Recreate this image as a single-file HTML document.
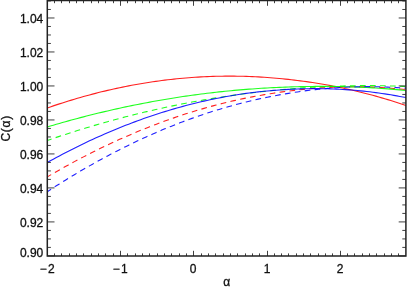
<!DOCTYPE html>
<html><head><meta charset="utf-8"><title>plot</title>
<style>html,body{margin:0;padding:0;background:#fff;}svg{display:block;}text{font-family:"Liberation Sans",sans-serif;font-size:12px;fill:#111;stroke:#111;stroke-width:0.3px;}</style></head>
<body>
<div style="will-change:transform;width:407px;height:287px;">
<svg width="407" height="287" viewBox="0 0 407 287">
<defs><clipPath id="c"><rect x="47.3" y="0.6" width="358.6" height="255.4"/></clipPath></defs>
<g clip-path="url(#c)" fill="none" stroke-linecap="butt" stroke-linejoin="round" stroke-opacity="0.88">
<polyline points="47.3,107.96 50.3,106.91 53.3,105.89 56.3,104.88 59.4,103.89 62.4,102.91 65.4,101.96 68.4,101.02 71.4,100.10 74.4,99.19 77.4,98.30 80.4,97.44 83.5,96.58 86.5,95.75 89.5,94.93 92.5,94.13 95.5,93.35 98.5,92.58 101.5,91.83 104.6,91.10 107.6,90.39 110.6,89.70 113.6,89.02 116.6,88.36 119.6,87.71 122.6,87.09 125.6,86.48 128.7,85.89 131.7,85.31 134.7,84.76 137.7,84.22 140.7,83.70 143.7,83.19 146.7,82.70 149.8,82.23 152.8,81.78 155.8,81.35 158.8,80.93 161.8,80.53 164.8,80.15 167.8,79.78 170.9,79.43 173.9,79.10 176.9,78.79 179.9,78.49 182.9,78.22 185.9,77.96 188.9,77.71 191.9,77.49 195.0,77.28 198.0,77.09 201.0,76.91 204.0,76.76 207.0,76.62 210.0,76.49 213.0,76.39 216.1,76.30 219.1,76.23 222.1,76.18 225.1,76.15 228.1,76.13 231.1,76.13 234.1,76.15 237.1,76.18 240.2,76.23 243.2,76.30 246.2,76.39 249.2,76.49 252.2,76.62 255.2,76.76 258.2,76.91 261.3,77.09 264.3,77.28 267.3,77.49 270.3,77.71 273.3,77.96 276.3,78.22 279.3,78.49 282.3,78.79 285.4,79.10 288.4,79.42 291.4,79.75 294.4,80.09 297.4,80.46 300.4,80.84 303.4,81.24 306.5,81.66 309.5,82.10 312.5,82.55 315.5,83.02 318.5,83.51 321.5,84.01 324.5,84.53 327.6,85.07 330.6,85.63 333.6,86.20 336.6,86.80 339.6,87.41 342.6,88.03 345.6,88.68 348.6,89.34 351.7,90.02 354.7,90.71 357.7,91.43 360.7,92.16 363.7,92.91 366.7,93.68 369.7,94.48 372.8,95.30 375.8,96.13 378.8,96.99 381.8,97.86 384.8,98.74 387.8,99.65 390.8,100.57 393.8,101.51 396.9,102.46 399.9,103.44 402.9,104.43 405.9,105.44" stroke="#ff0000" stroke-width="1.1"/>
<polyline points="47.3,176.89 50.3,175.13 53.3,173.38 56.3,171.65 59.4,169.94 62.4,168.24 65.4,166.56 68.4,164.90 71.4,163.26 74.4,161.64 77.4,160.03 80.4,158.44 83.5,156.87 86.5,155.31 89.5,153.78 92.5,152.26 95.5,150.75 98.5,149.27 101.5,147.80 104.6,146.35 107.6,144.92 110.6,143.51 113.6,142.11 116.6,140.73 119.6,139.37 122.6,138.03 125.6,136.70 128.7,135.39 131.7,134.10 134.7,132.82 137.7,131.57 140.7,130.33 143.7,129.11 146.7,127.90 149.8,126.72 152.8,125.55 155.8,124.40 158.8,123.27 161.8,122.15 164.8,121.05 167.8,119.97 170.9,118.91 173.9,117.86 176.9,116.83 179.9,115.82 182.9,114.83 185.9,113.85 188.9,112.90 191.9,111.96 195.0,111.03 198.0,110.13 201.0,109.24 204.0,108.37 207.0,107.52 210.0,106.68 213.0,105.87 216.1,105.07 219.1,104.28 222.1,103.52 225.1,102.77 228.1,102.04 231.1,101.33 234.1,100.63 237.1,99.96 240.2,99.30 243.2,98.66 246.2,98.03 249.2,97.42 252.2,96.84 255.2,96.26 258.2,95.71 261.3,95.17 264.3,94.65 267.3,94.15 270.3,93.67 273.3,93.20 276.3,92.75 279.3,92.32 282.3,91.91 285.4,91.51 288.4,91.11 291.4,90.73 294.4,90.37 297.4,90.03 300.4,89.70 303.4,89.39 306.5,89.10 309.5,88.82 312.5,88.57 315.5,88.33 318.5,88.10 321.5,87.90 324.5,87.71 327.6,87.54 330.6,87.39 333.6,87.26 336.6,87.14 339.6,87.04 342.6,86.96 345.6,86.90 348.6,86.85 351.7,86.82 354.7,86.81 357.7,86.82 360.7,86.84 363.7,86.88 366.7,86.95 369.7,87.05 372.8,87.16 375.8,87.29 378.8,87.44 381.8,87.60 384.8,87.79 387.8,87.99 390.8,88.21 393.8,88.44 396.9,88.70 399.9,88.97 402.9,89.26 405.9,89.56" stroke="#ff0000" stroke-width="1.1" stroke-dasharray="5.7 4.3" stroke-dashoffset="1.2"/>
<polyline points="47.3,126.94 50.3,126.04 53.3,125.16 56.3,124.28 59.4,123.42 62.4,122.56 65.4,121.71 68.4,120.88 71.4,120.05 74.4,119.24 77.4,118.43 80.4,117.64 83.5,116.85 86.5,116.08 89.5,115.31 92.5,114.56 95.5,113.81 98.5,113.08 101.5,112.35 104.6,111.64 107.6,110.93 110.6,110.24 113.6,109.55 116.6,108.88 119.6,108.21 122.6,107.56 125.6,106.91 128.7,106.28 131.7,105.66 134.7,105.04 137.7,104.44 140.7,103.84 143.7,103.26 146.7,102.68 149.8,102.12 152.8,101.57 155.8,101.02 158.8,100.49 161.8,99.96 164.8,99.45 167.8,98.95 170.9,98.45 173.9,97.97 176.9,97.50 179.9,97.03 182.9,96.58 185.9,96.14 188.9,95.70 191.9,95.28 195.0,94.87 198.0,94.46 201.0,94.07 204.0,93.69 207.0,93.31 210.0,92.95 213.0,92.60 216.1,92.26 219.1,91.92 222.1,91.60 225.1,91.29 228.1,90.98 231.1,90.69 234.1,90.41 237.1,90.14 240.2,89.88 243.2,89.62 246.2,89.38 249.2,89.15 252.2,88.93 255.2,88.71 258.2,88.51 261.3,88.32 264.3,88.14 267.3,87.97 270.3,87.80 273.3,87.65 276.3,87.51 279.3,87.38 282.3,87.26 285.4,87.14 288.4,87.03 291.4,86.92 294.4,86.82 297.4,86.73 300.4,86.65 303.4,86.58 306.5,86.53 309.5,86.48 312.5,86.44 315.5,86.41 318.5,86.39 321.5,86.39 324.5,86.39 327.6,86.40 330.6,86.42 333.6,86.46 336.6,86.50 339.6,86.55 342.6,86.61 345.6,86.69 348.6,86.77 351.7,86.86 354.7,86.96 357.7,87.08 360.7,87.20 363.7,87.33 366.7,87.49 369.7,87.66 372.8,87.84 375.8,88.03 378.8,88.23 381.8,88.44 384.8,88.66 387.8,88.89 390.8,89.13 393.8,89.38 396.9,89.64 399.9,89.91 402.9,90.19 405.9,90.48" stroke="#00ff00" stroke-width="1.1"/>
<polyline points="47.3,140.44 50.3,139.41 53.3,138.39 56.3,137.38 59.4,136.38 62.4,135.38 65.4,134.40 68.4,133.43 71.4,132.47 74.4,131.52 77.4,130.58 80.4,129.64 83.5,128.72 86.5,127.81 89.5,126.91 92.5,126.01 95.5,125.13 98.5,124.26 101.5,123.39 104.6,122.54 107.6,121.70 110.6,120.86 113.6,120.04 116.6,119.23 119.6,118.42 122.6,117.63 125.6,116.84 128.7,116.07 131.7,115.30 134.7,114.55 137.7,113.80 140.7,113.07 143.7,112.34 146.7,111.63 149.8,110.92 152.8,110.23 155.8,109.54 158.8,108.86 161.8,108.20 164.8,107.54 167.8,106.90 170.9,106.26 173.9,105.63 176.9,105.01 179.9,104.41 182.9,103.81 185.9,103.22 188.9,102.64 191.9,102.08 195.0,101.52 198.0,100.97 201.0,100.43 204.0,99.90 207.0,99.39 210.0,98.88 213.0,98.38 216.1,97.89 219.1,97.41 222.1,96.94 225.1,96.48 228.1,96.03 231.1,95.59 234.1,95.16 237.1,94.74 240.2,94.33 243.2,93.93 246.2,93.54 249.2,93.16 252.2,92.79 255.2,92.43 258.2,92.08 261.3,91.74 264.3,91.40 267.3,91.08 270.3,90.77 273.3,90.47 276.3,90.18 279.3,89.89 282.3,89.62 285.4,89.36 288.4,89.09 291.4,88.83 294.4,88.58 297.4,88.35 300.4,88.12 303.4,87.90 306.5,87.69 309.5,87.49 312.5,87.30 315.5,87.12 318.5,86.95 321.5,86.79 324.5,86.65 327.6,86.51 330.6,86.38 333.6,86.26 336.6,86.15 339.6,86.05 342.6,85.95 345.6,85.87 348.6,85.80 351.7,85.74 354.7,85.69 357.7,85.65 360.7,85.62 363.7,85.60 366.7,85.59 369.7,85.61 372.8,85.63 375.8,85.66 378.8,85.71 381.8,85.76 384.8,85.82 387.8,85.89 390.8,85.98 393.8,86.07 396.9,86.17 399.9,86.28 402.9,86.40 405.9,86.53" stroke="#00ff00" stroke-width="1.1" stroke-dasharray="5.7 4.3" stroke-dashoffset="1.2"/>
<polyline points="47.3,162.46 50.3,160.79 53.3,159.15 56.3,157.52 59.4,155.91 62.4,154.32 65.4,152.75 68.4,151.19 71.4,149.66 74.4,148.15 77.4,146.65 80.4,145.18 83.5,143.72 86.5,142.28 89.5,140.87 92.5,139.47 95.5,138.09 98.5,136.72 101.5,135.38 104.6,134.06 107.6,132.76 110.6,131.47 113.6,130.20 116.6,128.96 119.6,127.73 122.6,126.52 125.6,125.33 128.7,124.16 131.7,123.01 134.7,121.88 137.7,120.77 140.7,119.67 143.7,118.60 146.7,117.54 149.8,116.50 152.8,115.49 155.8,114.49 158.8,113.51 161.8,112.55 164.8,111.61 167.8,110.68 170.9,109.78 173.9,108.90 176.9,108.03 179.9,107.19 182.9,106.36 185.9,105.55 188.9,104.76 191.9,103.99 195.0,103.24 198.0,102.51 201.0,101.80 204.0,101.10 207.0,100.43 210.0,99.78 213.0,99.14 216.1,98.52 219.1,97.92 222.1,97.35 225.1,96.79 228.1,96.25 231.1,95.72 234.1,95.22 237.1,94.74 240.2,94.27 243.2,93.83 246.2,93.40 249.2,92.99 252.2,92.61 255.2,92.24 258.2,91.89 261.3,91.56 264.3,91.25 267.3,90.95 270.3,90.68 273.3,90.42 276.3,90.19 279.3,89.97 282.3,89.78 285.4,89.60 288.4,89.42 291.4,89.25 294.4,89.11 297.4,88.99 300.4,88.89 303.4,88.80 306.5,88.74 309.5,88.69 312.5,88.66 315.5,88.66 318.5,88.67 321.5,88.70 324.5,88.75 327.6,88.82 330.6,88.90 333.6,89.01 336.6,89.13 339.6,89.28 342.6,89.44 345.6,89.63 348.6,89.83 351.7,90.05 354.7,90.29 357.7,90.55 360.7,90.83 363.7,91.12 366.7,91.45 369.7,91.81 372.8,92.18 375.8,92.58 378.8,92.99 381.8,93.42 384.8,93.87 387.8,94.34 390.8,94.83 393.8,95.34 396.9,95.87 399.9,96.42 402.9,96.98 405.9,97.57" stroke="#0000ff" stroke-width="1.1"/>
<polyline points="47.3,191.67 50.3,189.71 53.3,187.76 56.3,185.83 59.4,183.93 62.4,182.04 65.4,180.16 68.4,178.31 71.4,176.48 74.4,174.66 77.4,172.86 80.4,171.08 83.5,169.32 86.5,167.58 89.5,165.86 92.5,164.15 95.5,162.47 98.5,160.80 101.5,159.15 104.6,157.52 107.6,155.91 110.6,154.32 113.6,152.75 116.6,151.19 119.6,149.66 122.6,148.14 125.6,146.64 128.7,145.16 131.7,143.70 134.7,142.25 137.7,140.83 140.7,139.42 143.7,138.04 146.7,136.67 149.8,135.32 152.8,133.99 155.8,132.67 158.8,131.38 161.8,130.10 164.8,128.85 167.8,127.61 170.9,126.39 173.9,125.19 176.9,124.00 179.9,122.84 182.9,121.70 185.9,120.57 188.9,119.46 191.9,118.37 195.0,117.30 198.0,116.25 201.0,115.22 204.0,114.20 207.0,113.21 210.0,112.23 213.0,111.27 216.1,110.33 219.1,109.41 222.1,108.51 225.1,107.62 228.1,106.76 231.1,105.91 234.1,105.08 237.1,104.27 240.2,103.48 243.2,102.71 246.2,101.95 249.2,101.22 252.2,100.50 255.2,99.80 258.2,99.13 261.3,98.47 264.3,97.82 267.3,97.20 270.3,96.60 273.3,96.01 276.3,95.44 279.3,94.89 282.3,94.36 285.4,93.85 288.4,93.34 291.4,92.85 294.4,92.38 297.4,91.92 300.4,91.49 303.4,91.07 306.5,90.67 309.5,90.29 312.5,89.93 315.5,89.59 318.5,89.27 321.5,88.96 324.5,88.68 327.6,88.41 330.6,88.16 333.6,87.93 336.6,87.72 339.6,87.53 342.6,87.35 345.6,87.20 348.6,87.06 351.7,86.94 354.7,86.84 357.7,86.76 360.7,86.70 363.7,86.65 366.7,86.64 369.7,86.65 372.8,86.68 375.8,86.72 378.8,86.79 381.8,86.88 384.8,86.98 387.8,87.10 390.8,87.24 393.8,87.40 396.9,87.58 399.9,87.78 402.9,87.99 405.9,88.23" stroke="#0000ff" stroke-width="1.1" stroke-dasharray="5.7 4.3" stroke-dashoffset="1.2"/>
</g>
<path d="M47.50,256.0v-5.2M47.50,0.6v5.2M54.50,256.0v-2.6M54.50,0.6v2.6M61.50,256.0v-2.6M61.50,0.6v2.6M69.50,256.0v-2.6M69.50,0.6v2.6M76.50,256.0v-2.6M76.50,0.6v2.6M83.50,256.0v-2.6M83.50,0.6v2.6M91.50,256.0v-2.6M91.50,0.6v2.6M98.50,256.0v-2.6M98.50,0.6v2.6M105.50,256.0v-2.6M105.50,0.6v2.6M113.50,256.0v-2.6M113.50,0.6v2.6M120.50,256.0v-5.2M120.50,0.6v5.2M127.50,256.0v-2.6M127.50,0.6v2.6M135.50,256.0v-2.6M135.50,0.6v2.6M142.50,256.0v-2.6M142.50,0.6v2.6M149.50,256.0v-2.6M149.50,0.6v2.6M157.50,256.0v-2.6M157.50,0.6v2.6M164.50,256.0v-2.6M164.50,0.6v2.6M171.50,256.0v-2.6M171.50,0.6v2.6M179.50,256.0v-2.6M179.50,0.6v2.6M186.50,256.0v-2.6M186.50,0.6v2.6M193.50,256.0v-5.2M193.50,0.6v5.2M201.50,256.0v-2.6M201.50,0.6v2.6M208.50,256.0v-2.6M208.50,0.6v2.6M215.50,256.0v-2.6M215.50,0.6v2.6M223.50,256.0v-2.6M223.50,0.6v2.6M230.50,256.0v-2.6M230.50,0.6v2.6M237.50,256.0v-2.6M237.50,0.6v2.6M245.50,256.0v-2.6M245.50,0.6v2.6M252.50,256.0v-2.6M252.50,0.6v2.6M259.50,256.0v-2.6M259.50,0.6v2.6M267.50,256.0v-5.2M267.50,0.6v5.2M274.50,256.0v-2.6M274.50,0.6v2.6M281.50,256.0v-2.6M281.50,0.6v2.6M288.50,256.0v-2.6M288.50,0.6v2.6M296.50,256.0v-2.6M296.50,0.6v2.6M303.50,256.0v-2.6M303.50,0.6v2.6M310.50,256.0v-2.6M310.50,0.6v2.6M318.50,256.0v-2.6M318.50,0.6v2.6M325.50,256.0v-2.6M325.50,0.6v2.6M332.50,256.0v-2.6M332.50,0.6v2.6M340.50,256.0v-5.2M340.50,0.6v5.2M347.50,256.0v-2.6M347.50,0.6v2.6M354.50,256.0v-2.6M354.50,0.6v2.6M362.50,256.0v-2.6M362.50,0.6v2.6M369.50,256.0v-2.6M369.50,0.6v2.6M376.50,256.0v-2.6M376.50,0.6v2.6M384.50,256.0v-2.6M384.50,0.6v2.6M391.50,256.0v-2.6M391.50,0.6v2.6M398.50,256.0v-2.6M398.50,0.6v2.6M47.3,255.90h7.2M405.9,255.90h-7.2M47.3,247.40h3.6M405.9,247.40h-3.6M47.3,238.91h3.6M405.9,238.91h-3.6M47.3,230.41h3.6M405.9,230.41h-3.6M47.3,221.91h7.2M405.9,221.91h-7.2M47.3,213.41h3.6M405.9,213.41h-3.6M47.3,204.91h3.6M405.9,204.91h-3.6M47.3,196.42h3.6M405.9,196.42h-3.6M47.3,187.92h7.2M405.9,187.92h-7.2M47.3,179.42h3.6M405.9,179.42h-3.6M47.3,170.92h3.6M405.9,170.92h-3.6M47.3,162.43h3.6M405.9,162.43h-3.6M47.3,153.93h7.2M405.9,153.93h-7.2M47.3,145.43h3.6M405.9,145.43h-3.6M47.3,136.94h3.6M405.9,136.94h-3.6M47.3,128.44h3.6M405.9,128.44h-3.6M47.3,119.94h7.2M405.9,119.94h-7.2M47.3,111.44h3.6M405.9,111.44h-3.6M47.3,102.95h3.6M405.9,102.95h-3.6M47.3,94.45h3.6M405.9,94.45h-3.6M47.3,85.95h7.2M405.9,85.95h-7.2M47.3,77.45h3.6M405.9,77.45h-3.6M47.3,68.96h3.6M405.9,68.96h-3.6M47.3,60.46h3.6M405.9,60.46h-3.6M47.3,51.96h7.2M405.9,51.96h-7.2M47.3,43.46h3.6M405.9,43.46h-3.6M47.3,34.97h3.6M405.9,34.97h-3.6M47.3,26.47h3.6M405.9,26.47h-3.6M47.3,17.97h7.2M405.9,17.97h-7.2M47.3,9.47h3.6M405.9,9.47h-3.6M47.3,0.97h3.6M405.9,0.97h-3.6" fill="none" stroke="#2a2a2a" stroke-width="0.9"/>
<path d="M47.3,0.6H405.9V256.0H47.3Z" fill="none" stroke="#222" stroke-width="1.5"/>
<g opacity="0.999">
<text x="43.3" y="256.80" text-anchor="end">0.90</text>
<text x="43.3" y="227.01" text-anchor="end">0.92</text>
<text x="43.3" y="193.02" text-anchor="end">0.94</text>
<text x="43.3" y="159.03" text-anchor="end">0.96</text>
<text x="43.3" y="125.04" text-anchor="end">0.98</text>
<text x="43.3" y="91.05" text-anchor="end">1.00</text>
<text x="43.3" y="57.06" text-anchor="end">1.02</text>
<text x="43.3" y="23.07" text-anchor="end">1.04</text>
<text x="47.80" y="272.8" text-anchor="middle" letter-spacing="1.3">−2</text>
<text x="120.80" y="272.8" text-anchor="middle" letter-spacing="1.3">−1</text>
<text x="193.10" y="272.8" text-anchor="middle">0</text>
<text x="267.10" y="272.8" text-anchor="middle">1</text>
<text x="340.10" y="272.8" text-anchor="middle">2</text>
<text x="226.6" y="285.8" text-anchor="middle" font-size="11.5">α</text>
<text transform="translate(10.4,128.3) rotate(-90)" text-anchor="middle" letter-spacing="0.7">C(α)</text>
</g>
</svg></div></body></html>
